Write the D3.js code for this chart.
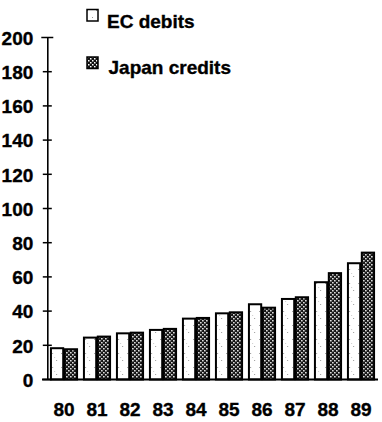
<!DOCTYPE html>
<html><head><meta charset="utf-8">
<script src="https://cdn.jsdelivr.net/npm/d3@7"></script>
<style>
html,body{margin:0;padding:0;background:#fff;}
svg{display:block;}
text{font-family:"Liberation Sans",Arial,Helvetica,sans-serif;font-weight:bold;fill:#000;stroke:#000;stroke-width:0.35px;}
</style></head>
<body>
<script>
const years = ["80","81","82","83","84","85","86","87","88","89"];
const seriesNames = ["EC debits","Japan credits"];
const ecDebits = [18.3,24.5,27.0,29.0,35.6,38.7,44.0,47.1,56.9,68.0];
const japanCredits = [17.7,25.1,27.4,29.6,36.0,39.3,42.0,48.1,62.2,74.2];
const yTicks = [0,20,40,60,80,100,120,140,160,180,200];

const W=382,H=422;
const svg=d3.select("body").append("svg").attr("width",W).attr("height",H);
const defs=svg.append("defs");

// EC debits: white with sparse specks
const p1=defs.append("pattern").attr("id","ecPat").attr("patternUnits","userSpaceOnUse")
  .attr("width",9).attr("height",14);
p1.append("rect").attr("width",9).attr("height",14).attr("fill","#fff");
[[2,3],[6,10],[4,7]].forEach(([x,y],i)=>p1.append("rect").attr("x",x).attr("y",y)
  .attr("width",1).attr("height",1).attr("fill",i===2?"#ccc":"#999"));

// Japan credits: dark crosshatch
const p2=defs.append("pattern").attr("id","jpPat").attr("patternUnits","userSpaceOnUse")
  .attr("width",4).attr("height",4);
p2.append("rect").attr("width",4).attr("height",4).attr("fill","#111");
p2.append("rect").attr("x",0).attr("y",0).attr("width",1.5).attr("height",1.5).attr("fill","#fff");
p2.append("rect").attr("x",2).attr("y",2).attr("width",1.5).attr("height",1.5).attr("fill","#fff");

const fills=["url(#ecPat)","url(#jpPat)"];

const x0=d3.scaleBand().domain(years).range([47.5,377.5]).paddingInner(0.16).paddingOuter(0.08);
const x1=d3.scaleBand().domain(seriesNames).range([0,x0.bandwidth()]).padding(0);
const y=d3.scaleLinear().domain([0,200]).range([379.5,37.5]);

const data=years.map((yr,i)=>({yr,vals:[ecDebits[i],japanCredits[i]]}));

// bars
const g=svg.append("g");
const grp=g.selectAll("g.grp").data(data).join("g").attr("class","grp")
  .attr("transform",d=>`translate(${x0(d.yr)},0)`);
grp.selectAll("rect").data(d=>d.vals.map((v,j)=>({v,s:seriesNames[j],j})))
  .join("rect")
  .attr("x",d=>x1(d.s)+0.8)
  .attr("width",x1.bandwidth()-1.6)
  .attr("y",d=>y(d.v))
  .attr("height",d=>y(0)-y(d.v))
  .attr("fill",d=>fills[d.j])
  .attr("stroke","#000").attr("stroke-width",2);

// y axis
const axisX=47.3;
const ya=svg.append("g").attr("transform",`translate(${axisX},0)`)
  .call(d3.axisLeft(y).tickValues(yTicks).tickSize(0).tickPadding(14));
ya.select(".domain").attr("stroke","#000").attr("stroke-width",1.6);
ya.selectAll(".tick line").remove();
ya.selectAll(".tick text").attr("font-size",19).attr("font-family","Liberation Sans, Arial, sans-serif")
  .attr("font-weight","bold").attr("fill","#000").attr("dy","0.36em");
// crossing tick marks
svg.append("g").selectAll("line").data(yTicks).join("line")
  .attr("x1",d=>d===200?axisX-6:axisX-4.5).attr("x2",d=>d===200?axisX+6:axisX+4.5)
  .attr("y1",d=>y(d)).attr("y2",d=>y(d))
  .attr("stroke","#000").attr("stroke-width",1.5);

// x baseline
svg.append("line").attr("x1",42).attr("x2",378).attr("y1",y(0)).attr("y2",y(0))
  .attr("stroke","#000").attr("stroke-width",2);

// x labels
const xa=svg.append("g").attr("transform",`translate(0,${y(0)})`)
  .call(d3.axisBottom(x0).tickSize(0));
xa.select(".domain").remove();
xa.selectAll(".tick text").attr("y",36.5).attr("dy",0).attr("font-size",19)
  .attr("font-family","Liberation Sans, Arial, sans-serif").attr("font-weight","bold").attr("fill","#000");

// legend
const leg=svg.append("g");
const legRows=[{y:9.5,base:28},{y:57,base:74}];
seriesNames.forEach((s,i)=>{
  leg.append("rect").attr("x",87).attr("y",legRows[i].y).attr("width",11).attr("height",11.5)
    .attr("fill",fills[i]).attr("stroke","#000").attr("stroke-width",1.5);
  leg.append("text").attr("x",i===0?107:108.5).attr("y",legRows[i].base)
    .attr("font-size",19).text(s);
});
</script>
</body></html>
